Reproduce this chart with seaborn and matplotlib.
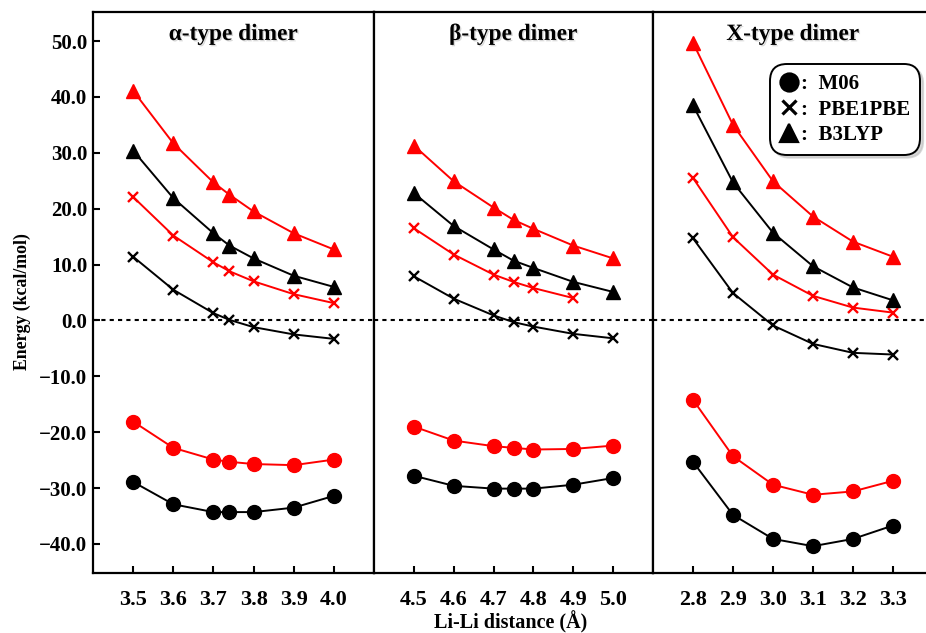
import numpy as np
import pandas as pd
import matplotlib
matplotlib.use("Agg")
import matplotlib.pyplot as plt
import matplotlib.patheffects as pe
from matplotlib.lines import Line2D
import seaborn as sns

# Li-Li distances (Angstrom) per dimer type
dist_alpha = [3.5, 3.6, 3.7, 3.74, 3.8, 3.9, 4.0]
dist_beta = [4.5, 4.6, 4.7, 4.75, 4.8, 4.9, 5.0]
dist_x = [2.8, 2.9, 3.0, 3.1, 3.2, 3.3]

# alpha-type dimer energies (kcal/mol)
alpha_m06_black = [-28.9, -32.9, -34.3, -34.3, -34.3, -33.5, -31.4]
alpha_m06_red = [-18.1, -22.8, -24.9, -25.3, -25.7, -25.9, -24.9]
alpha_pbe_black = [11.4, 5.5, 1.3, 0.1, -1.2, -2.5, -3.3]
alpha_pbe_red = [22.1, 15.2, 10.4, 8.8, 7.0, 4.7, 3.1]
alpha_b3_black = [30.4, 21.9, 15.6, 13.4, 11.1, 8.0, 6.0]
alpha_b3_red = [41.1, 31.7, 24.7, 22.5, 19.5, 15.6, 12.7]

# beta-type dimer energies (red PBE1PBE curve stops at 4.9)
beta_m06_black = [-27.8, -29.6, -30.1, -30.1, -30.1, -29.4, -28.2]
beta_m06_red = [-19.0, -21.5, -22.5, -22.8, -23.1, -23.0, -22.4]
beta_pbe_black = [7.9, 3.9, 0.9, -0.3, -1.1, -2.4, -3.2]
beta_pbe_red = [16.5, 11.8, 8.2, 6.9, 5.8, 4.0]
beta_b3_black = [22.8, 16.9, 12.7, 10.7, 9.4, 6.9, 5.1]
beta_b3_red = [31.3, 24.9, 20.2, 18.0, 16.4, 13.4, 11.1]

# X-type dimer energies
x_m06_black = [-25.3, -34.8, -39.1, -40.4, -39.1, -36.7]
x_m06_red = [-14.2, -24.3, -29.4, -31.2, -30.6, -28.7]
x_pbe_black = [14.7, 4.9, -0.9, -4.2, -5.8, -6.1]
x_pbe_red = [25.5, 14.9, 8.2, 4.4, 2.3, 1.4]
x_b3_black = [38.5, 24.7, 15.7, 9.7, 5.9, 3.6]
x_b3_red = [49.7, 35.0, 24.9, 18.6, 14.1, 11.4]

panel_titles = ["\u03b1-type dimer", "\u03b2-type dimer", "X-type dimer"]
methods = ["M06", "PBE1PBE", "B3LYP"]
y_ticks = [-40, -30, -20, -10, 0, 10, 20, 30, 40, 50]


def build_frame():
    series = [
        ("alpha", dist_alpha, {"M06": (alpha_m06_black, alpha_m06_red),
                               "PBE1PBE": (alpha_pbe_black, alpha_pbe_red),
                               "B3LYP": (alpha_b3_black, alpha_b3_red)}),
        ("beta", dist_beta, {"M06": (beta_m06_black, beta_m06_red),
                             "PBE1PBE": (beta_pbe_black, beta_pbe_red),
                             "B3LYP": (beta_b3_black, beta_b3_red)}),
        ("X", dist_x, {"M06": (x_m06_black, x_m06_red),
                       "PBE1PBE": (x_pbe_black, x_pbe_red),
                       "B3LYP": (x_b3_black, x_b3_red)}),
    ]
    rows = []
    for dimer, dist, vals in series:
        for method, (blk, red) in vals.items():
            for color, ys in (("black", blk), ("red", red)):
                for d, e in zip(dist, ys):
                    rows.append({"dimer": dimer, "method": method,
                                 "color": color, "distance": d, "energy": e})
    return pd.DataFrame(rows)


df = build_frame()

sns.set_style("ticks")
plt.rcParams["font.family"] = ["Liberation Serif", "DejaVu Serif"]
plt.rcParams["font.weight"] = "bold"
plt.rcParams["axes.linewidth"] = 1.6
plt.rcParams["axes.edgecolor"] = "black"
plt.rcParams["xtick.color"] = "black"
plt.rcParams["ytick.color"] = "black"
plt.rcParams["text.color"] = "black"

fig = plt.figure(figsize=(9.26, 6.33), dpi=100)
W, H = 926, 633
panel_px = [(93, 374), (374, 653), (653, 933)]
xlims = [(3.4, 4.1), (4.4, 5.1), (2.7, 3.4)]
xticks = [dist_alpha[:3] + dist_alpha[4:], dist_beta[:3] + dist_beta[4:], dist_x]
dimers = ["alpha", "beta", "X"]

marker_style = {"M06": ("o", 10, 1.0), "PBE1PBE": ("x", 6.5, 1.7), "B3LYP": ("^", 10, 1.0)}
palette = {"black": "black", "red": "#ff0000"}

axes = []
for i, (x0, x1) in enumerate(panel_px):
    ax = fig.add_axes([x0 / W, 1 - 573 / H, (x1 - x0) / W, 561 / H])
    axes.append(ax)
    sub = df[df["dimer"] == dimers[i]]
    for method in methods:
        mk, ms, mew = marker_style[method]
        for color in ["black", "red"]:
            part = sub[(sub["method"] == method) & (sub["color"] == color)]
            sns.lineplot(data=part, x="distance", y="energy", ax=ax,
                         color=palette[color], marker=mk, markersize=ms,
                         markeredgecolor=palette[color], markeredgewidth=mew,
                         linewidth=1.4, errorbar=None, legend=False)
    ax.axhline(0, color="black", linestyle=(0, (2, 2)), linewidth=1.5, zorder=0)
    ax.set_xlim(*xlims[i])
    ax.set_ylim(-45.2, 55.2)
    ax.set_xticks(xticks[i])
    ax.set_xticklabels([f"{t:.1f}" for t in xticks[i]], fontsize=16, fontweight="bold")
    ax.set_xlabel("")
    ax.set_ylabel("")
    ax.tick_params(axis="x", direction="in", length=5, width=1.5, pad=12)
    ax.set_yticks(y_ticks)
    if i == 0:
        ax.set_yticklabels([f"{t:.1f}".replace("-", "\u2212") for t in y_ticks],
                           fontsize=15, fontweight="bold")
        ax.tick_params(axis="y", direction="in", length=5, width=1.5, pad=4)
    elif i == 2:
        ax.yaxis.tick_right()
        ax.set_yticklabels([])
        ax.tick_params(axis="y", direction="in", length=4, width=1.5)
    else:
        ax.tick_params(axis="y", length=0, labelleft=False)
    ax.text(0.5, 0.96, panel_titles[i], transform=ax.transAxes, ha="center",
            va="center", fontsize=16.8, fontweight="bold",
            path_effects=[pe.withSimplePatchShadow(offset=(1, -1), shadow_rgbFace="0.75", alpha=0.6)])
    for s in ax.spines.values():
        s.set_linewidth(1.6)
        s.set_color("black")

fig.text(22 / W, 1 - 302 / H, "Energy (kcal/mol)", rotation=90, ha="center",
         va="center", fontsize=12.8, fontweight="bold")
fig.text(511 / W, 1 - 622 / H, "Li-Li distance (\u00c5)", ha="center",
         va="center", fontsize=14.5, fontweight="bold")

handles = [Line2D([], [], color="black", marker=marker_style[m][0], linestyle="none",
                  markersize=marker_style[m][1] + 3, markeredgewidth=marker_style[m][2] + 0.6)
           for m in methods]
leg = axes[2].legend(handles, [":  " + m for m in methods], loc="upper right",
                     bbox_to_anchor=(0.94, 0.899), borderaxespad=0, frameon=True,
                     fancybox=True, prop={"size": 15, "weight": "bold"},
                     handlelength=0.8, handletextpad=0.2, labelspacing=0.25,
                     borderpad=0.28, shadow={"color": "0.75", "alpha": 0.6})
leg.get_frame().set_edgecolor("black")
leg.get_frame().set_linewidth(1.4)
leg.get_frame().set_boxstyle("round,pad=0.2,rounding_size=0.8")

fig.savefig("out.png", dpi=100)
